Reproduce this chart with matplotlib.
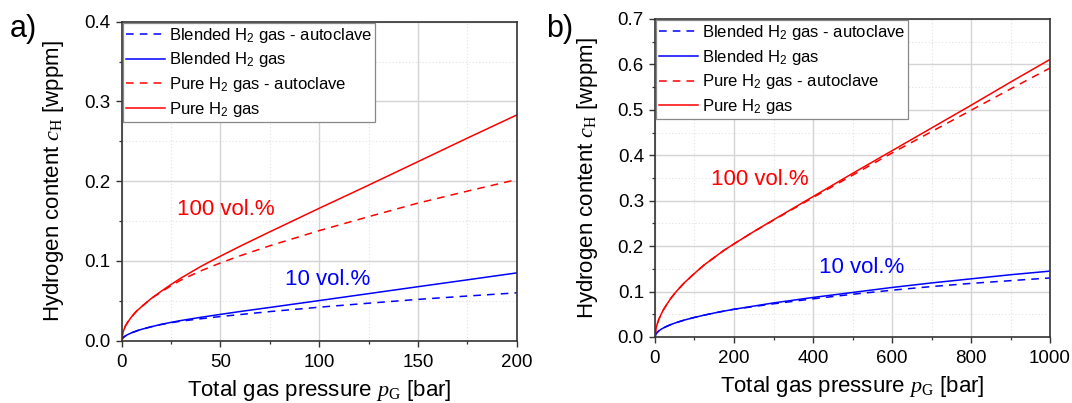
import matplotlib
matplotlib.use("Agg")
import matplotlib.pyplot as plt
from matplotlib.ticker import MultipleLocator

plt.rcParams['font.family'] = ['Liberation Sans', 'DejaVu Sans']
plt.rcParams['mathtext.fontset'] = 'custom'
plt.rcParams['mathtext.rm'] = 'Liberation Sans'
plt.rcParams['mathtext.it'] = 'Liberation Serif:italic'
plt.rcParams['mathtext.sf'] = 'Liberation Serif'

# ---- panel a) : 0 - 200 bar ----
p_a = [0, 0.5, 1, 2, 3, 5, 7.5, 10, 15, 20, 25, 30, 40, 50, 60, 75, 100, 125, 150, 175, 200]
pure_a = [0, 0.009, 0.013, 0.019, 0.023, 0.030, 0.037, 0.0425, 0.053, 0.062, 0.0705, 0.0785,
          0.093, 0.106, 0.1185, 0.1365, 0.166, 0.195, 0.2245, 0.254, 0.283]
pure_auto_a = [0, 0.009, 0.013, 0.019, 0.023, 0.030, 0.037, 0.0425, 0.053, 0.061, 0.069, 0.076,
               0.0875, 0.0975, 0.1065, 0.119, 0.138, 0.1555, 0.1725, 0.1875, 0.202]
blend_a = [0, 0.0031, 0.0044, 0.0062, 0.0076, 0.0099, 0.0122, 0.0142, 0.0175, 0.0205, 0.023,
           0.0253, 0.0293, 0.033, 0.0366, 0.0417, 0.0503, 0.059, 0.0677, 0.0763, 0.085]
blend_auto_a = [0, 0.0031, 0.0044, 0.0062, 0.0076, 0.0099, 0.0122, 0.0142, 0.0175, 0.0203, 0.0225,
                0.0245, 0.0275, 0.0303, 0.0328, 0.0365, 0.042, 0.047, 0.0518, 0.056, 0.060]

# ---- panel b) : 0 - 1000 bar ----
p_b = [0, 2, 5, 10, 15, 20, 30, 40, 50, 60, 75, 100, 125, 150, 175, 200, 250, 300,
       400, 500, 600, 700, 800, 900, 1000]
pure_b = [0, 0.016, 0.027, 0.0395, 0.049, 0.058, 0.072, 0.085, 0.096, 0.106, 0.120, 0.140,
          0.159, 0.175, 0.191, 0.205, 0.232, 0.258, 0.309, 0.360, 0.410, 0.460, 0.510, 0.561, 0.611]
pure_auto_b = [0, 0.016, 0.027, 0.0395, 0.049, 0.058, 0.072, 0.085, 0.096, 0.106, 0.120, 0.140,
               0.159, 0.175, 0.191, 0.205, 0.232, 0.257, 0.307, 0.356, 0.405, 0.452, 0.499, 0.546, 0.592]
blend_b = [0, 0.0061, 0.0096, 0.0136, 0.0167, 0.0193, 0.0236, 0.0273, 0.0305, 0.0334, 0.0374,
           0.0431, 0.0482, 0.0528, 0.0571, 0.061, 0.068, 0.075, 0.087, 0.098, 0.109, 0.119,
           0.128, 0.137, 0.145]
blend_auto_b = [0, 0.0061, 0.0096, 0.0136, 0.0167, 0.0193, 0.0236, 0.0273, 0.0305, 0.0334, 0.0374,
                0.0431, 0.0482, 0.0528, 0.0571, 0.061, 0.067, 0.073, 0.084, 0.094, 0.103, 0.111,
                0.118, 0.124, 0.130]

labels = ["Blended H$_2$ gas - autoclave", "Blended H$_2$ gas",
          "Pure H$_2$ gas - autoclave", "Pure H$_2$ gas"]

RED = '#ff0000'
BLUE = '#0000ff'
DASH = (0, (5, 4))
LW = 1.1

fig = plt.figure(figsize=(10.72, 4.03), dpi=100)
ax_a = fig.add_axes([0.1135, 0.1546, 0.3685, 0.7916])
ax_b = fig.add_axes([0.6110, 0.1638, 0.3685, 0.7891])


def draw(ax, p, ba, b, pa, pu, xmax, ymax, xmaj, ymaj):
    ax.plot(p, ba, color=BLUE, lw=LW, ls=DASH, label=labels[0])
    ax.plot(p, b, color=BLUE, lw=LW, label=labels[1])
    ax.plot(p, pa, color=RED, lw=LW, ls=DASH, label=labels[2])
    ax.plot(p, pu, color=RED, lw=LW, label=labels[3])
    ax.set_xlim(0, xmax)
    ax.set_ylim(0, ymax)
    ax.xaxis.set_major_locator(MultipleLocator(xmaj))
    ax.xaxis.set_minor_locator(MultipleLocator(xmaj / 2))
    ax.yaxis.set_major_locator(MultipleLocator(ymaj))
    ax.yaxis.set_minor_locator(MultipleLocator(ymaj / 2))
    ax.yaxis.set_major_formatter(lambda v, pos: f"{v:.1f}")
    ax.grid(True, which='major', color='#d4d4d4', lw=1.0)
    ax.grid(True, which='minor', color='#e2e2e2', lw=0.8, ls=(0, (1, 2)))
    ax.set_axisbelow(True)
    for s in ax.spines.values():
        s.set_color('#333333')
        s.set_linewidth(1.2)
    ax.tick_params(which='major', direction='out', length=4, width=1.0,
                   color='#333333', labelsize=13.5)
    ax.tick_params(axis='x', which='major', pad=5.5)
    ax.tick_params(axis='y', which='major', pad=4)
    ax.tick_params(which='minor', direction='out', length=2.5, width=0.9, color='#333333')
    ax.set_xlabel("Total gas pressure $p_\\mathsf{G}$ [bar]", fontsize=16, labelpad=5)
    ax.set_ylabel("Hydrogen content $c_\\mathsf{H}$ [wppm]", fontsize=16, labelpad=13)
    leg = ax.legend(loc='upper left', fontsize=12, frameon=True, fancybox=False,
                    framealpha=1, edgecolor='#888888', borderaxespad=0.08,
                    handlelength=2.35, handletextpad=0.25, labelspacing=0.35,
                    borderpad=0.15)
    leg.get_frame().set_linewidth(0.9)


draw(ax_a, p_a, blend_auto_a, blend_a, pure_auto_a, pure_a, 200, 0.4, 50, 0.1)
draw(ax_b, p_b, blend_auto_b, blend_b, pure_auto_b, pure_b, 1000, 0.7, 200, 0.1)

ax_a.text(28.2, 0.165, "100 vol.%", color=RED, fontsize=16, va='center', ha='left')
ax_a.text(82.8, 0.077, "10 vol.%", color=BLUE, fontsize=16, va='center', ha='left')
ax_b.text(143, 0.347, "100 vol.%", color=RED, fontsize=16, va='center', ha='left')
ax_b.text(415, 0.152, "10 vol.%", color=BLUE, fontsize=16, va='center', ha='left')

fig.text(0.009, 0.928, "a)", fontsize=22, va='center', ha='left')
fig.text(0.509, 0.928, "b)", fontsize=22, va='center', ha='left')

fig.savefig("out.png", dpi=100)
